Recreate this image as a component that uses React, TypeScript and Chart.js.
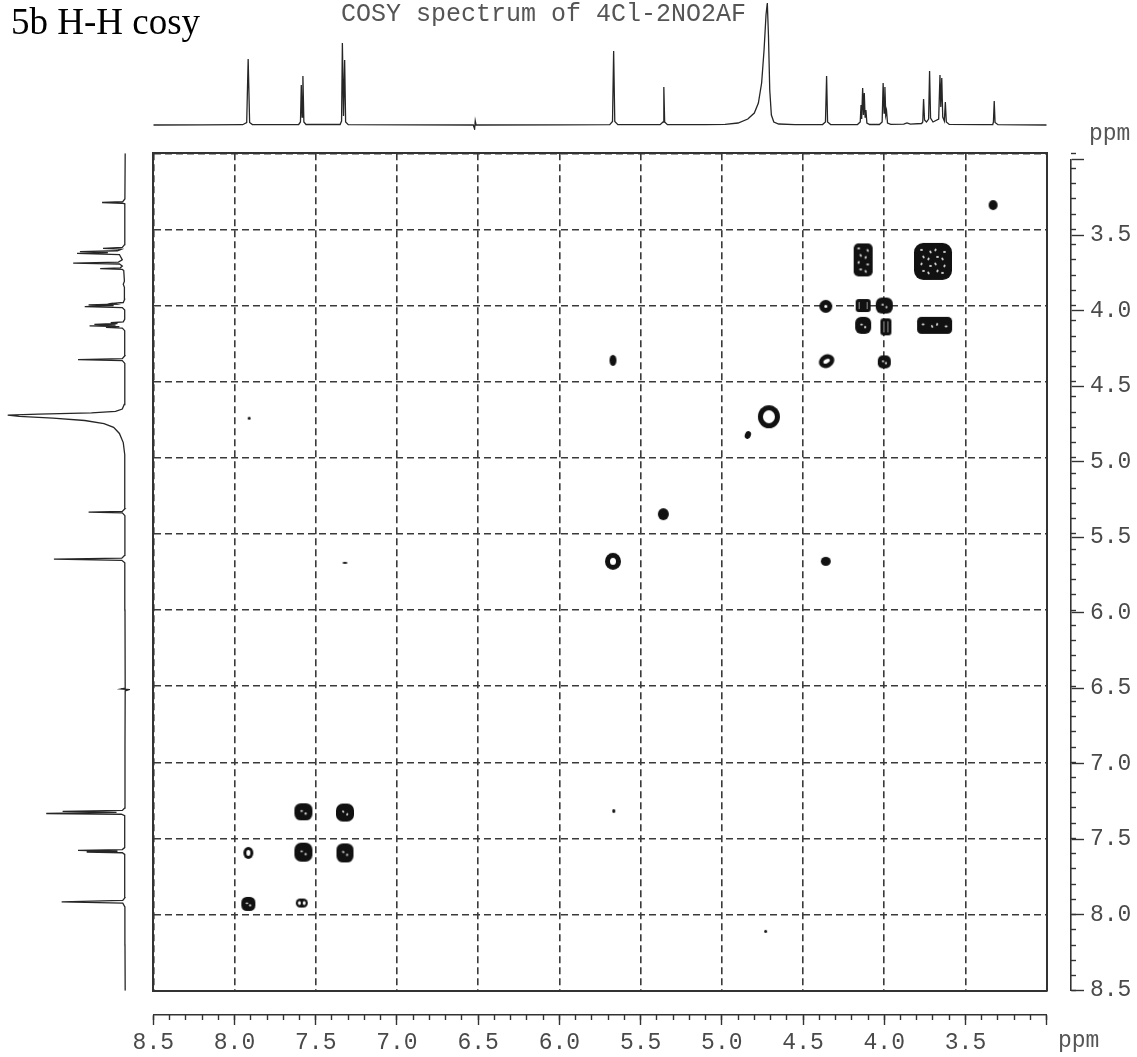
import React, { useEffect, useRef } from "react";
import { Chart, registerables } from "chart.js";

Chart.register(...registerables);

// ---------------- data ----------------
const PPM_MIN = 3.0;
const PPM_MAX = 8.5;
const majorTicks = [8.5, 8.0, 7.5, 7.0, 6.5, 6.0, 5.5, 5.0, 4.5, 4.0, 3.5, 3.0];
const bottomTickLabels = ["8.5", "8.0", "7.5", "7.0", "6.5", "6.0", "5.5", "5.0", "4.5", "4.0", "3.5", ""];
const rightTickLabels = ["8.5", "8.0", "7.5", "7.0", "6.5", "6.0", "5.5", "5.0", "4.5", "4.0", "3.5", ""];

// 1D projection spectrum: [ppm, intensity]
const spectrum: [number, number][] = [
  [8.5, 0.0], [8.2, 0.2], [7.95, 0.3],
  [7.925, 2.5], [7.916, 66], [7.907, 2.5], [7.89, 0.4],
  [7.605, 0.5], [7.594, 3], [7.589, 40], [7.584, 8], [7.579, 49], [7.573, 3], [7.56, 0.5],
  [7.35, 0.5], [7.341, 4], [7.336, 82], [7.329, 9], [7.322, 65], [7.316, 3], [7.3, 0.4],
  [6.9, 0.2], [6.53, 0.0], [6.522, -4], [6.518, 4], [6.513, 0.0],
  [6.0, 0.2], [5.69, 0.4], [5.673, 3.5], [5.666, 74], [5.659, 3.5], [5.64, 0.4],
  [5.38, 0.3], [5.362, 3], [5.357, 38], [5.352, 3], [5.335, 0.3],
  [5.1, 0.3], [4.98, 0.6], [4.9, 2], [4.84, 6], [4.8, 12], [4.775, 22], [4.755, 42], [4.74, 75],
  [4.728, 110], [4.72, 122], [4.713, 90], [4.705, 35], [4.695, 10], [4.68, 3], [4.65, 1], [4.55, 0.4],
  [4.38, 0.4], [4.362, 3], [4.355, 49], [4.349, 3], [4.33, 0.4],
  [4.165, 0.5], [4.148, 3], [4.143, 20], [4.139, 6], [4.133, 37], [4.128, 10], [4.123, 32],
  [4.118, 8], [4.113, 15], [4.107, 2], [4.09, 0.5],
  [4.03, 0.5], [4.013, 3], [4.007, 42], [4.001, 12], [3.996, 38], [3.991, 10], [3.986, 14],
  [3.98, 2], [3.96, 0.6],
  [3.88, 0.8], [3.86, 2], [3.84, 0.8],
  [3.77, 1.5], [3.763, 3], [3.758, 26], [3.752, 5], [3.74, 3], [3.727, 6], [3.721, 54], [3.715, 7],
  [3.7, 3], [3.665, 6], [3.657, 50], [3.652, 18], [3.646, 47], [3.64, 8], [3.63, 4], [3.624, 23],
  [3.618, 3], [3.6, 0.6],
  [3.4, 0.3], [3.332, 0.5], [3.328, 3], [3.323, 24], [3.318, 2.5], [3.3, 0.3],
  [3.0, 0.0],
];

// 2D cross peaks: [F2 ppm (x), F1 ppm (y)]
const aromaticPeaks: [number, number][] = [
  [7.915, 7.93], [7.586, 7.924], [7.915, 7.595], [7.576, 7.59],
  [7.32, 7.595], [7.576, 7.325], [7.32, 7.33],
];
const midPeaks: [number, number][] = [
  [5.67, 4.36], [4.71, 4.73], [4.84, 4.85], [5.36, 5.37], [5.67, 5.68], [4.36, 5.68],
];
const aliphaticPeaks: [number, number][] = [
  [4.36, 4.005], [4.355, 4.365], [3.33, 3.34], [4.13, 3.7], [3.7, 3.71], [4.13, 4.0],
  [4.0, 4.0], [4.13, 4.13], [3.99, 4.14], [3.69, 4.13], [4.0, 4.37],
];
const artifactPeaks: [number, number][] = [
  [7.91, 4.74], [7.32, 5.69], [5.665, 7.32], [4.73, 8.11],
];

// ---------------- styles ----------------
type Glyph = { k: string; w: number; h: number; t?: number; rot?: number };

const aromaticGlyphs: Glyph[] = [
  { k: "blob", w: 14, h: 14 },
  { k: "ring2", w: 12, h: 9 },
  { k: "ring", w: 10, h: 12, t: 3 },
  { k: "blob", w: 18, h: 19 },
  { k: "blob", w: 17, h: 19, rot: 15 },
  { k: "blob", w: 18, h: 17 },
  { k: "blob", w: 18, h: 18, rot: 35 },
];
const midGlyphs: Glyph[] = [
  { k: "dot", w: 7, h: 11 },
  { k: "ring", w: 22, h: 23, t: 5 },
  { k: "dot", w: 6, h: 8, rot: 20 },
  { k: "dot", w: 11, h: 12 },
  { k: "ring", w: 16, h: 17, t: 5 },
  { k: "dot", w: 10, h: 9 },
];
const aliphaticGlyphs: Glyph[] = [
  { k: "ring", w: 13, h: 13, t: 5 },
  { k: "ring", w: 16, h: 13, t: 4.5, rot: -30 },
  { k: "dot", w: 9, h: 10 },
  { k: "texture", w: 19, h: 33 },
  { k: "texture", w: 38, h: 37 },
  { k: "rect", w: 15, h: 13 },
  { k: "blob", w: 17, h: 16 },
  { k: "blob", w: 16, h: 17 },
  { k: "rect", w: 11, h: 17 },
  { k: "texture", w: 35, h: 17 },
  { k: "blob", w: 13, h: 13 },
];
const artifactGlyphs: Glyph[] = [
  { k: "dot", w: 3, h: 3 },
  { k: "dot", w: 5, h: 2 },
  { k: "dot", w: 3, h: 4 },
  { k: "dot", w: 3, h: 3 },
];

const INK = "#111111";
const LINE = "#333333";
const GRID = "#3a3a3a";
const MONO = "'Liberation Mono', 'DejaVu Sans Mono', monospace";

function roundRectPath(g: CanvasRenderingContext2D, x: number, y: number, w: number, h: number, r: number) {
  const rr = Math.min(r, w / 2, h / 2);
  g.beginPath();
  g.moveTo(x + rr, y);
  g.lineTo(x + w - rr, y);
  g.arcTo(x + w, y, x + w, y + rr, rr);
  g.lineTo(x + w, y + h - rr);
  g.arcTo(x + w, y + h, x + w - rr, y + h, rr);
  g.lineTo(x + rr, y + h);
  g.arcTo(x, y + h, x, y + h - rr, rr);
  g.lineTo(x, y + rr);
  g.arcTo(x, y, x + rr, y, rr);
  g.closePath();
}

function makeGlyph(s: Glyph): HTMLCanvasElement {
  const pad = 2;
  const cw = Math.ceil(s.w + pad * 2);
  const ch = Math.ceil(s.h + pad * 2);
  const c = document.createElement("canvas");
  c.width = cw;
  c.height = ch;
  const g = c.getContext("2d") as CanvasRenderingContext2D;
  const cx = cw / 2;
  const cy = ch / 2;
  const rx = s.w / 2;
  const ry = s.h / 2;
  const rot = ((s.rot || 0) * Math.PI) / 180;
  const ell = (a: number, b: number, ox = 0, oy = 0) => {
    g.beginPath();
    g.ellipse(cx + ox, cy + oy, Math.max(a, 0.4), Math.max(b, 0.4), rot, 0, Math.PI * 2);
  };
  g.fillStyle = INK;
  if (s.k === "dot") {
    ell(rx, ry);
    g.fill();
  } else if (s.k === "ring") {
    const t = s.t || 3;
    ell(rx, ry);
    g.fill();
    g.fillStyle = "#ffffff";
    ell(rx - t, ry - t);
    g.fill();
  } else if (s.k === "blob") {
    roundRectPath(g, cx - rx, cy - ry, s.w, s.h, Math.min(rx, ry) * 0.75);
    g.fill();
    g.fillStyle = "rgba(255,255,255,0.85)";
    ell(1.3, 0.9, -rx * 0.2, -ry * 0.1);
    g.fill();
    ell(1.0, 1.2, rx * 0.25, ry * 0.2);
    g.fill();
  } else if (s.k === "ring2") {
    roundRectPath(g, cx - rx, cy - ry, s.w, s.h, ry);
    g.fill();
    g.fillStyle = "#ffffff";
    ell(rx / 2 - 1.6, ry - 2.4, -rx / 2 + 0.6, 0);
    g.fill();
    ell(rx / 2 - 1.6, ry - 2.4, rx / 2 - 0.6, 0);
    g.fill();
  } else if (s.k === "rect") {
    roundRectPath(g, cx - rx, cy - ry, s.w, s.h, 3);
    g.fill();
    g.strokeStyle = "rgba(255,255,255,0.7)";
    g.lineWidth = 0.8;
    g.beginPath();
    g.moveTo(cx - rx + 3.5, cy - ry + 3);
    g.lineTo(cx - rx + 3.5, cy + ry - 3);
    g.moveTo(cx + rx - 3.5, cy - ry + 3);
    g.lineTo(cx + rx - 3.5, cy + ry - 3);
    g.stroke();
  } else if (s.k === "texture") {
    roundRectPath(g, cx - rx, cy - ry, s.w, s.h, Math.min(rx, ry) * 0.5);
    g.fill();
    g.fillStyle = "rgba(255,255,255,0.8)";
    const cell = 7;
    const cols = Math.max(1, Math.floor((s.w - 4) / cell));
    const rows = Math.max(1, Math.floor((s.h - 4) / cell));
    const x0 = cx - (cols * cell) / 2;
    const y0 = cy - (rows * cell) / 2;
    for (let i = 0; i < rows; i++) {
      for (let j = 0; j < cols; j++) {
        const px = x0 + j * cell + cell / 2 + ((i + j) % 2 ? 1 : -1);
        const py = y0 + i * cell + cell / 2 + (j % 2 ? 1 : -1);
        g.beginPath();
        g.ellipse(px, py, 1.5, 1.0, (i + j) % 3, 0, Math.PI * 2);
        g.fill();
      }
    }
  }
  return c;
}

function tickLabel(labels: string[]) {
  return (v: number | string) => {
    const n = Number(v);
    const i = majorTicks.findIndex((t) => Math.abs(t - n) < 1e-9);
    return i >= 0 ? labels[i] : "";
  };
}

const W = 1137;
const H = 1057;
const AREA = { left: 153.3, top: 153.3, right: 1046.7, bottom: 990.7 };

const baseOpts = {
  animation: false as const,
  responsive: false,
  maintainAspectRatio: false,
  events: [] as any[],
  plugins: { legend: { display: false }, tooltip: { enabled: false }, title: { display: false } },
};

export default function App() {
  const mainRef = useRef<HTMLCanvasElement>(null);
  const topRef = useRef<HTMLCanvasElement>(null);
  const leftRef = useRef<HTMLCanvasElement>(null);
  const bMinRef = useRef<HTMLCanvasElement>(null);
  const bMajRef = useRef<HTMLCanvasElement>(null);
  const rMinRef = useRef<HTMLCanvasElement>(null);
  const rMajRef = useRef<HTMLCanvasElement>(null);

  useEffect(() => {
    const charts: Chart[] = [];
    const groups = [
      { peaks: aromaticPeaks, glyphs: aromaticGlyphs },
      { peaks: midPeaks, glyphs: midGlyphs },
      { peaks: aliphaticPeaks, glyphs: aliphaticGlyphs },
      { peaks: artifactPeaks, glyphs: artifactGlyphs },
    ];

    // main 2D contour plot
    charts.push(
      new Chart(mainRef.current as HTMLCanvasElement, {
        type: "scatter",
        data: {
          datasets: groups.map((gr) => ({
            data: gr.peaks.map(([x, y]) => ({ x, y })),
            pointStyle: gr.glyphs.map(makeGlyph) as any,
            pointRadius: gr.glyphs.map((s) => Math.max(s.w, s.h) / 2),
            backgroundColor: INK,
            borderColor: INK,
          })),
        },
        options: {
          ...baseOpts,
          layout: {
            padding: { left: AREA.left, top: AREA.top, right: W - AREA.right, bottom: H - AREA.bottom },
          },
          scales: {
            x: {
              type: "linear", position: "bottom", min: PPM_MIN, max: PPM_MAX, reverse: true,
              afterBuildTicks: (s: any) => { s.ticks = majorTicks.map((v) => ({ value: v })); },
              ticks: { display: false },
              grid: { display: true, drawTicks: false, color: GRID, lineWidth: 1.6 },
              border: { display: true, color: LINE, width: 2, dash: [7, 4] },
            },
            y: {
              type: "linear", position: "left", min: PPM_MIN, max: PPM_MAX, reverse: true,
              afterBuildTicks: (s: any) => { s.ticks = majorTicks.map((v) => ({ value: v })); },
              ticks: { display: false },
              grid: { display: true, drawTicks: false, color: GRID, lineWidth: 1.6 },
              border: { display: true, color: LINE, width: 2, dash: [7, 4] },
            },
            x2: {
              type: "linear", axis: "x", position: "top", min: PPM_MIN, max: PPM_MAX, reverse: true,
              ticks: { display: false },
              grid: { display: false, drawTicks: false },
              border: { display: true, color: LINE, width: 2 },
            },
            y2: {
              type: "linear", axis: "y", position: "right", min: PPM_MIN, max: PPM_MAX, reverse: true,
              ticks: { display: false },
              grid: { display: false, drawTicks: false },
              border: { display: true, color: LINE, width: 2 },
            },
          } as any,
        },
      })
    );

    // top 1D projection
    charts.push(
      new Chart(topRef.current as HTMLCanvasElement, {
        type: "line",
        data: {
          datasets: [{
            data: spectrum.map(([p, v]) => ({ x: p, y: v })),
            borderColor: "#262626", borderWidth: 1.3, pointRadius: 0, tension: 0, fill: false,
          }],
        },
        options: {
          ...baseOpts,
          layout: { padding: { left: AREA.left, right: W - AREA.right, top: 0, bottom: 0 } },
          scales: {
            x: { type: "linear", min: PPM_MIN, max: PPM_MAX, reverse: true, display: false },
            y: { type: "linear", min: -5, max: 125, display: false },
          },
        },
      })
    );

    // left 1D projection (rotated)
    charts.push(
      new Chart(leftRef.current as HTMLCanvasElement, {
        type: "line",
        data: {
          datasets: [{
            data: spectrum.map(([p, v]) => ({ x: v, y: p })),
            borderColor: "#262626", borderWidth: 1.3, pointRadius: 0, tension: 0, fill: false,
          }],
        },
        options: {
          ...baseOpts,
          indexAxis: "y",
          layout: { padding: { left: 0, right: 20, top: AREA.top - 140, bottom: 860 - (AREA.bottom - 140) } },
          scales: {
            x: { type: "linear", min: -5, max: 130, reverse: true, display: false },
            y: { type: "linear", min: PPM_MIN, max: PPM_MAX, reverse: true, display: false },
          },
        },
      })
    );

    // bottom ppm axis: minor + major tick layers
    const bottomAxis = (major: boolean) => ({
      type: "line" as const,
      data: { datasets: [] },
      options: {
        ...baseOpts,
        layout: { padding: { left: AREA.left, right: W - AREA.right, top: 0, bottom: 0 } },
        scales: {
          x: {
            type: "linear", position: "bottom", min: PPM_MIN, max: PPM_MAX, reverse: true,
            afterBuildTicks: major ? (s: any) => { s.ticks = majorTicks.map((v) => ({ value: v })); } : undefined,
            afterFit: (s: any) => { s.height = 42; },
            ticks: major
              ? { display: true, autoSkip: false, maxRotation: 0, padding: 4, color: "#4a4a4a",
                  font: { family: MONO, size: 23 }, callback: tickLabel(bottomTickLabels) }
              : { display: false, stepSize: 0.1 },
            grid: { display: true, drawOnChartArea: false, drawTicks: true, tickLength: major ? 10 : 5,
                    tickWidth: 1.4, tickColor: LINE, color: LINE },
            border: { display: major, color: LINE, width: 1.6 },
          },
          y: { type: "linear", display: false, min: 0, max: 1 },
        } as any,
      },
    });
    charts.push(new Chart(bMinRef.current as HTMLCanvasElement, bottomAxis(false) as any));
    charts.push(new Chart(bMajRef.current as HTMLCanvasElement, bottomAxis(true) as any));

    // right ppm axis: minor + major tick layers
    const rightAxis = (major: boolean) => ({
      type: "line" as const,
      data: { datasets: [] },
      options: {
        ...baseOpts,
        layout: { padding: { left: 0, right: 0, top: AREA.top - 140, bottom: 870 - (AREA.bottom - 140) } },
        scales: {
          x: { type: "linear", display: false, min: 0, max: 1 },
          y: {
            type: "linear", position: "right", min: PPM_MIN, max: PPM_MAX, reverse: true,
            afterBuildTicks: major ? (s: any) => { s.ticks = majorTicks.map((v) => ({ value: v })); } : undefined,
            afterFit: (s: any) => { s.width = 66; },
            ticks: major
              ? { display: true, autoSkip: false, padding: 6, color: "#4a4a4a",
                  font: { family: MONO, size: 23 }, callback: tickLabel(rightTickLabels) }
              : { display: false, stepSize: 0.1 },
            grid: { display: true, drawOnChartArea: false, drawTicks: true, tickLength: major ? 13 : 5,
                    tickWidth: 1.4, tickColor: LINE, color: LINE },
            border: { display: major, color: LINE, width: 1.6 },
          },
        } as any,
      },
    });
    charts.push(new Chart(rMinRef.current as HTMLCanvasElement, rightAxis(false) as any));
    charts.push(new Chart(rMajRef.current as HTMLCanvasElement, rightAxis(true) as any));

    return () => charts.forEach((c) => c.destroy());
  }, []);

  const abs = (left: number, top: number, width: number, height: number): React.CSSProperties => ({
    position: "absolute", left, top, width, height,
  });

  return (
    <div style={{ position: "absolute", left: 0, top: 0, width: W, height: H, background: "#fff", overflow: "hidden" }}>
      <canvas ref={mainRef} width={W} height={H} style={abs(0, 0, W, H)} />
      <canvas ref={topRef} width={W} height={130} style={abs(0, 0, W, 130)} />
      <canvas ref={leftRef} width={150} height={860} style={abs(0, 140, 150, 860)} />
      <canvas ref={bMinRef} width={W} height={57} style={abs(0, 1000, W, 57)} />
      <canvas ref={bMajRef} width={W} height={57} style={abs(0, 1000, W, 57)} />
      <canvas ref={rMinRef} width={137} height={870} style={abs(1000, 140, 137, 870)} />
      <canvas ref={rMajRef} width={137} height={870} style={abs(1000, 140, 137, 870)} />
      <div style={{ position: "absolute", left: 11, top: 3, font: "37px 'Liberation Serif', serif", lineHeight: "37px", color: "#000", whiteSpace: "nowrap" }}>
        5b H-H cosy
      </div>
      <div style={{ position: "absolute", left: 341, top: 2, font: `25px ${MONO}`, lineHeight: "25px", color: "#555", whiteSpace: "nowrap" }}>
        COSY spectrum of 4Cl-2NO2AF
      </div>
      <div style={{ position: "absolute", left: 1089, top: 123, font: `23px ${MONO}`, lineHeight: "23px", color: "#555", whiteSpace: "nowrap" }}>
        ppm
      </div>
      <div style={{ position: "absolute", left: 1058, top: 1030, font: `23px ${MONO}`, lineHeight: "23px", color: "#555", whiteSpace: "nowrap" }}>
        ppm
      </div>
    </div>
  );
}
